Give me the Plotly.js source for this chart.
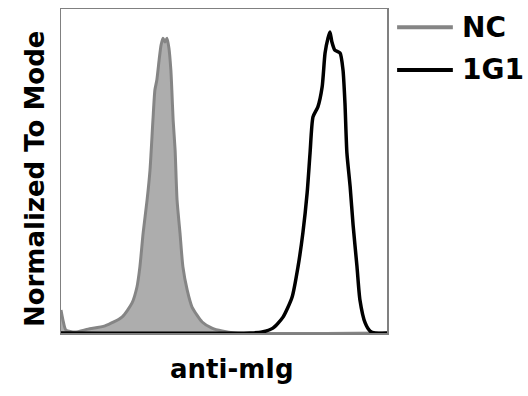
<!DOCTYPE html>
<html>
<head>
<meta charset="utf-8">
<script src="https://cdn.plot.ly/plotly-3.0.1.min.js"></script>
<style>html,body{margin:0;padding:0;background:#fff;}#chart{width:528px;height:396px;}</style>
</head>
<body>
<div id="chart"></div>
<script>
// Series names
const seriesNames = ["NC", "1G1"];
// NC histogram (channel, % of mode)
const ncX = [0, 6, 15, 43, 83, 135, 187, 218, 233, 242, 252, 264, 273, 282, 288, 294, 301, 307, 313, 319, 325, 331, 337, 340, 344, 350, 356, 365, 374, 387, 402, 433, 463, 494, 534, 1000];
const ncY = [7.1, 4.0, 0.9, 0.3, 1.2, 2.2, 4.9, 9.3, 14.2, 20.4, 30.9, 41.0, 50.3, 65.7, 75.0, 78.1, 84.3, 88.9, 91.0, 89.8, 91.0, 88.0, 81.2, 75.0, 65.7, 56.5, 41.0, 30.9, 20.4, 13.3, 8.0, 3.4, 1.5, 0.6, 0, 0];
// 1G1 histogram
const g1X = [0, 580, 617, 650, 681, 709, 727, 742, 755, 764, 773, 788, 801, 810, 819, 825, 831, 840, 856, 865, 871, 877, 887, 896, 908, 917, 933, 948, 963, 1000];
const g1Y = [0, 0, 0.3, 1.5, 4.9, 11.1, 20.4, 30.9, 43.2, 55.6, 66.7, 69.8, 75.9, 86.4, 91.0, 92.9, 89.8, 87.3, 86.4, 81.2, 71.0, 55.6, 45.1, 33.3, 20.4, 10.2, 3.1, 0.6, 0, 0];
const xTitle = "anti-mIg";
const yTitle = "Normalized To Mode";

const colors = ["#858585", "#000000"];
const font = {family: "DejaVu Sans, Verdana, sans-serif", weight: "bold", color: "#000"};

const traces = [
  {x: ncX, y: ncY, name: seriesNames[0], type: "scatter", mode: "lines",
   line: {color: colors[0], width: 3, shape: "spline", smoothing: 0.6},
   fill: "tozeroy", fillcolor: "#adadad"},
  {x: g1X, y: g1Y, name: seriesNames[1], type: "scatter", mode: "lines",
   line: {color: colors[1], width: 3.5, shape: "spline", smoothing: 0.6}}
];

const legendShapes = [];
const legendAnn = [];
const legendY = [0.944, 0.812];
seriesNames.forEach((n, i) => {
  legendShapes.push({type: "line", xref: "paper", yref: "paper", x0: 1.031, x1: 1.202, y0: legendY[i], y1: legendY[i],
    line: {color: colors[i], width: 4}});
  legendAnn.push({xref: "paper", yref: "paper", x: 1.225, y: legendY[i], xanchor: "left", yanchor: "middle",
    text: n, showarrow: false, font: Object.assign({}, font, {size: 28})});
});

const layout = {
  width: 528, height: 396,
  margin: {l: 61, r: 141, t: 9, b: 63, pad: 0},
  paper_bgcolor: "#fff", plot_bgcolor: "#fff",
  showlegend: false,
  xaxis: {range: [0, 1000], showgrid: false, zeroline: false, showticklabels: false, ticks: "",
    showline: true, mirror: true, linecolor: "#808080", linewidth: 1.5, fixedrange: true},
  yaxis: {range: [0, 100], showgrid: false, zeroline: false, showticklabels: false, ticks: "",
    showline: true, mirror: true, linecolor: "#808080", linewidth: 1.5, fixedrange: true},
  shapes: legendShapes,
  annotations: legendAnn.concat([
    {xref: "paper", yref: "paper", x: 0.525, y: -0.111, xanchor: "center", yanchor: "middle",
     text: xTitle, showarrow: false, font: Object.assign({}, font, {size: 26})},
    {xref: "paper", yref: "paper", x: -0.0798, y: 0.478, xanchor: "center", yanchor: "middle",
     text: yTitle, textangle: -90, showarrow: false, font: Object.assign({}, font, {size: 26})}
  ])
};

Plotly.newPlot("chart", traces, layout, {displayModeBar: false, staticPlot: true});
</script>
</body>
</html>
